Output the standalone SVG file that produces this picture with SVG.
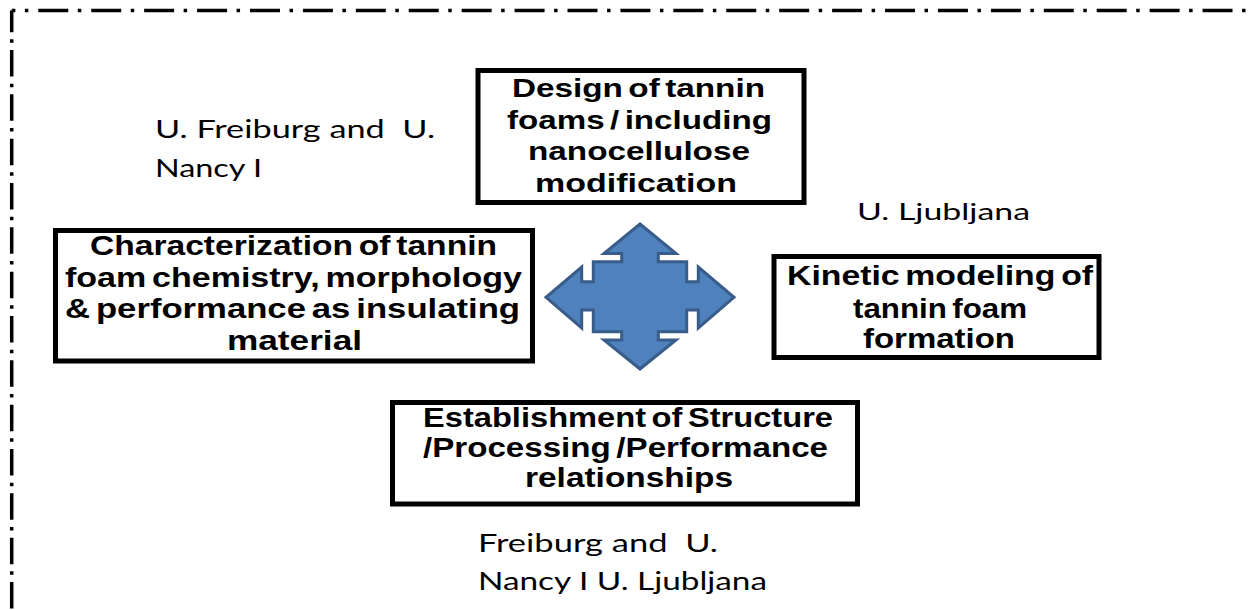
<svg xmlns="http://www.w3.org/2000/svg" width="1251" height="610" viewBox="0 0 1251 610">
<style>
.box{fill:#fff;stroke:#000;stroke-width:5}
.b{font-family:"Liberation Sans",Arial,sans-serif;font-weight:bold;fill:#000;word-spacing:-3px}
.r{font-family:Lato,"Open Sans",sans-serif;fill:#000;white-space:pre}
.border{fill:none;stroke:#000;stroke-width:3.5}
</style>
<rect width="1251" height="610" fill="#fff"/>
<g id="frame">
<line class="border" x1="11.7" y1="10.5" x2="1260" y2="10.5" stroke-dasharray="30 9.5 3.5 9.92" stroke-dashoffset="26.32"/>
<line class="border" x1="11.7" y1="10.5" x2="11.7" y2="620" stroke-dasharray="26.5 7.2 3.5 7.13" stroke-dashoffset="4.83"/>
</g>
<g id="connectors">
<path d="M640,224 L676,253.5 L658.3,253.5 L658.3,261.7 L686.7,261.7 L686.7,281.7 L698.3,281.7 L698.3,267 L734,297.3 L698.3,328 L698.3,310 L686.7,310 L686.7,331.7 L658.3,331.7 L658.3,340 L676,340 L640,369 L604,340 L621.7,340 L621.7,331.7 L593.3,331.7 L593.3,310 L581.7,310 L581.7,328 L546,297.3 L581.7,267 L581.7,281.7 L593.3,281.7 L593.3,261.7 L621.7,261.7 L621.7,253.5 L604,253.5 Z" fill="#4F81BD" stroke="#385D8A" stroke-width="3" stroke-linejoin="miter"/>
</g>
<g id="node-design">
<rect class="box" x="478" y="70.5" width="326" height="132"/>
<text class="b" font-size="26" x="512" y="97" textLength="253" lengthAdjust="spacingAndGlyphs">Design of tannin</text>
<text class="b" font-size="26" x="507" y="128.5" textLength="265" lengthAdjust="spacingAndGlyphs">foams / including</text>
<text class="b" font-size="26" x="528" y="160" textLength="222" lengthAdjust="spacingAndGlyphs">nanocellulose</text>
<text class="b" font-size="26" x="535" y="192" textLength="202" lengthAdjust="spacingAndGlyphs">modification</text>
</g>
<g id="node-characterization">
<rect class="box" x="55.5" y="230.5" width="477" height="130.5"/>
<text class="b" font-size="28" x="90" y="255" textLength="407" lengthAdjust="spacingAndGlyphs">Characterization of tannin</text>
<text class="b" font-size="28" x="65" y="286.5" textLength="457" lengthAdjust="spacingAndGlyphs">foam chemistry, morphology</text>
<text class="b" font-size="28" x="65" y="318.3" textLength="455" lengthAdjust="spacingAndGlyphs">&amp; performance as insulating</text>
<text class="b" font-size="28" x="227" y="350" textLength="135" lengthAdjust="spacingAndGlyphs">material</text>
</g>
<g id="node-kinetic">
<rect class="box" x="774" y="256.5" width="325" height="101"/>
<text class="b" font-size="28" x="787" y="285" textLength="306" lengthAdjust="spacingAndGlyphs">Kinetic modeling of</text>
<text class="b" font-size="28" x="853" y="318.3" textLength="174" lengthAdjust="spacingAndGlyphs">tannin foam</text>
<text class="b" font-size="28" x="863" y="348.3" textLength="152" lengthAdjust="spacingAndGlyphs">formation</text>
</g>
<g id="node-establishment">
<rect class="box" x="392.5" y="402.5" width="465" height="101.5"/>
<text class="b" font-size="28" x="423" y="427" textLength="410" lengthAdjust="spacingAndGlyphs">Establishment of Structure</text>
<text class="b" font-size="28" x="423" y="456.7" textLength="405" lengthAdjust="spacingAndGlyphs">/Processing /Performance</text>
<text class="b" font-size="28" x="525" y="486.7" textLength="208" lengthAdjust="spacingAndGlyphs">relationships</text>
</g>
<g id="label-freiburg-nancy">
<text class="r" font-size="25" x="155" y="138" textLength="280" lengthAdjust="spacingAndGlyphs" xml:space="preserve">U. Freiburg and  U.</text>
<text class="r" font-size="25" x="155" y="177" textLength="107" lengthAdjust="spacingAndGlyphs">Nancy I</text>
</g>
<g id="label-ljubljana">
<text class="r" font-size="24" x="857" y="220" textLength="173" lengthAdjust="spacingAndGlyphs">U. Ljubljana</text>
</g>
<g id="label-all">
<text class="r" font-size="25" x="478" y="552" textLength="240" lengthAdjust="spacingAndGlyphs" xml:space="preserve">Freiburg and  U.</text>
<text class="r" font-size="25" x="478" y="590" textLength="289" lengthAdjust="spacingAndGlyphs">Nancy I U. Ljubljana</text>
</g>
</svg>
